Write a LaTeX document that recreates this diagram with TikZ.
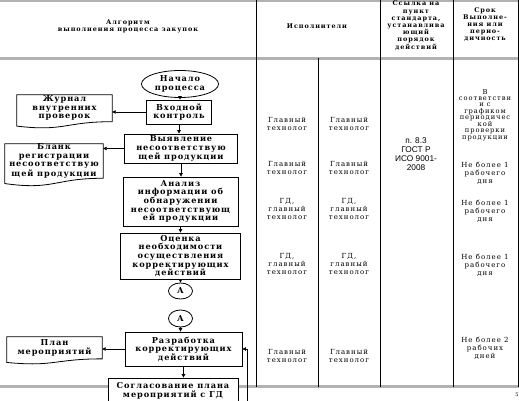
\documentclass[tikz,border=0pt]{standalone}
\usepackage{fontspec}
\setmainfont{DejaVu Serif}
\newfontfamily\widefont[LetterSpace=11]{DejaVu Serif}
\newfontfamily\cellfont[LetterSpace=14]{DejaVu Serif}
\newfontfamily\gostfont{Liberation Sans}
\usetikzlibrary{shapes.geometric,arrows.meta,calc}
\tikzset{
  flowbox/.style={draw, line width=0.8pt, inner sep=1pt, align=center,
    font=\widefont\bfseries\fontsize{8.2}{8.6}\selectfont},
  flowell/.style={ellipse, draw, line width=0.8pt, inner sep=0pt, align=center,
    font=\widefont\bfseries\fontsize{8.2}{8.6}\selectfont},
  docbox/.style={inner sep=0pt, align=center,
    font=\widefont\bfseries\fontsize{8.2}{8.4}\selectfont},
  docshape/.style={draw, line width=0.8pt},
  flowarr/.style={line width=0.7pt, -{Triangle[length=3.5pt,width=3.5pt]}},
  celltext/.style={align=center, inner sep=0pt,
    font=\cellfont\fontsize{7}{8}\selectfont},
  celltight/.style={align=center, inner sep=0pt,
    font=\cellfont\fontsize{6.7}{6.3}\selectfont},
  headtext/.style={align=center, inner sep=0pt,
    font=\cellfont\bfseries\fontsize{6.5}{7.2}\selectfont},
  gosttext/.style={align=center, inner sep=0pt,
    font=\gostfont\fontsize{8.3}{9}\selectfont},
  gridv/.style={line width=1pt, black},
  gridh/.style={line width=2.5pt, gray!60},
}
\newcommand\docpath[3]{%
  \draw[docshape] (#1.north west) -- (#1.north east) -- (#1.south east)
    .. controls (#1.south) and ($(#1.south)+(0,#2)$) .. ($(#1.south west)+(0,#3)$) -- cycle;}
\begin{document}
\begin{tikzpicture}[x=1pt,y=-1pt]
\clip (0,0) rectangle (519,401);
\fill[white] (0,0) rectangle (519,401);
% table grid
\draw[gridh] (0,1) -- (519,1);
\draw[gridh] (0,58.5) -- (519,58.5);
\draw[gridh] (0,386.5) -- (519,386.5);
\draw[gridv] (256,0) -- (256,386.5);
\draw[gridv] (318,58.5) -- (318,386.5);
\draw[gridv] (380,0) -- (380,386.5);
\draw[gridv] (453,0) -- (453,386.5);
\draw[gridv] (518,0) -- (518,386.5);
% headers
\node[headtext] (h1) at (128,26) {Алгоритм\\выполнения процесса закупок};
\node[headtext] (h2) at (317,26) {Исполнители};
\node[headtext] (h3) at (416,25.5) {Ссылка на\\пункт\\стандарта,\\устанавлива\\ющий\\порядок\\действий};
\node[headtext] (h4) at (485,24.5) {Срок\\Выполне-\\ния или\\перио-\\дичность};
% flowchart
\node[flowell, minimum width=77, minimum height=27] (start) at (180,84) {Начало\\процесса};
\node[flowbox, minimum width=65, minimum height=24] (vhod) at (179,112) {Входной\\контроль};
\node[flowbox, minimum width=113, minimum height=29] (vyav) at (181,148.5) {Выявление\\несоответствую\\щей продукции};
\node[flowbox, minimum width=115, minimum height=49] (anal) at (180.5,201.5) {Анализ\\информации об\\обнаружении\\несоответствующ\\ей продукции};
\node[flowbox, minimum width=120, minimum height=46] (ocen) at (180.5,256) {Оценка\\необходимости\\осуществления\\корректирующих\\действий};
\node[flowell, minimum width=24, minimum height=16] (a1) at (180.5,291) {А};
\node[flowell, minimum width=24, minimum height=17] (a2) at (180.5,318.5) {А};
\node[flowbox, minimum width=117, minimum height=34] (razr) at (183.5,349) {Разработка\\корректирующих\\действий};
\node[flowbox, fill=white, minimum width=130, minimum height=26] (sogl) at (173,391) {Согласование плана\\мероприятий с ГД};
% documents
\node[docbox, minimum width=95, minimum height=26.5] (jour) at (64.5,108.25) {Журнал\\внутренних\\проверок};
\docpath{jour}{10.1}{4.4}
\node[docbox, minimum width=98, minimum height=32] (blank) at (54,161) {Бланк\\регистрации\\несоответствую\\щей продукции};
\docpath{blank}{12.2}{5.3}
\node[docbox, minimum width=95, minimum height=21.7] (plan) at (54.5,347.8) {План\\мероприятий};
\docpath{plan}{8.2}{3.6}
% connectors
\draw[flowarr] (start.south) -- (start.south |- vhod.north);
\draw[flowarr] (vhod.south) -- (vhod.south |- vyav.north);
\draw[flowarr] (vyav.south) -- (vyav.south |- anal.north);
\draw[flowarr] (anal.south) -- (anal.south |- ocen.north);
\draw[flowarr] (ocen.south) -- (ocen.south |- a1.north);
\draw[flowarr] (a2.south) -- (a2.south |- razr.north);
\draw[flowarr] (razr.south) -- (razr.south |- sogl.north);
\draw[flowarr] (vhod.west) -- (vhod.west -| jour.east);
\draw[flowarr] (vyav.west) -- (vyav.west -| blank.east);
\draw[flowarr] (razr.west) -- (razr.west -| plan.east);
\coordinate (loopb) at (247,405);
\draw[flowarr] (loopb) |- (razr.east);
% column texts
\node[celltext] (e1a) at (287,124) {Главный\\технолог};
\node[celltext] (e2a) at (349,124) {Главный\\технолог};
\node[celltext] (e1b) at (287,168) {Главный\\технолог};
\node[celltext] (e2b) at (349,168) {Главный\\технолог};
\node[celltext] (e1c) at (287,209) {ГД,\\главный\\технолог};
\node[celltext] (e2c) at (349,209) {ГД,\\главный\\технолог};
\node[celltext] (e1d) at (287,264) {ГД,\\главный\\технолог};
\node[celltext] (e2d) at (349,264) {ГД,\\главный\\технолог};
\node[celltext] (e1e) at (287,356) {Главный\\технолог};
\node[celltext] (e2e) at (349,356) {Главный\\технолог};
\node[gosttext] (gost) at (416,154) {п. 8.3\\ГОСТ Р\\ИСО 9001-\\2008};
\node[celltight] (t1) at (485,115) {В\\соответстви\\и с\\графиком\\периодичес\\кой\\проверки\\продукции};
\node[celltext] (t2) at (485,173) {Не более 1\\рабочего\\дня};
\node[celltext] (t3) at (485,211) {Не более 1\\рабочего\\дня};
\node[celltext] (t4) at (485,265) {Не более 1\\рабочего\\дня};
\node[celltext] (t5) at (485,348) {Не более 2\\рабочих\\дней};
\node[inner sep=0pt, font=\fontsize{5}{5}\selectfont] (pg) at (517,395) {5};
\end{tikzpicture}
\end{document}
